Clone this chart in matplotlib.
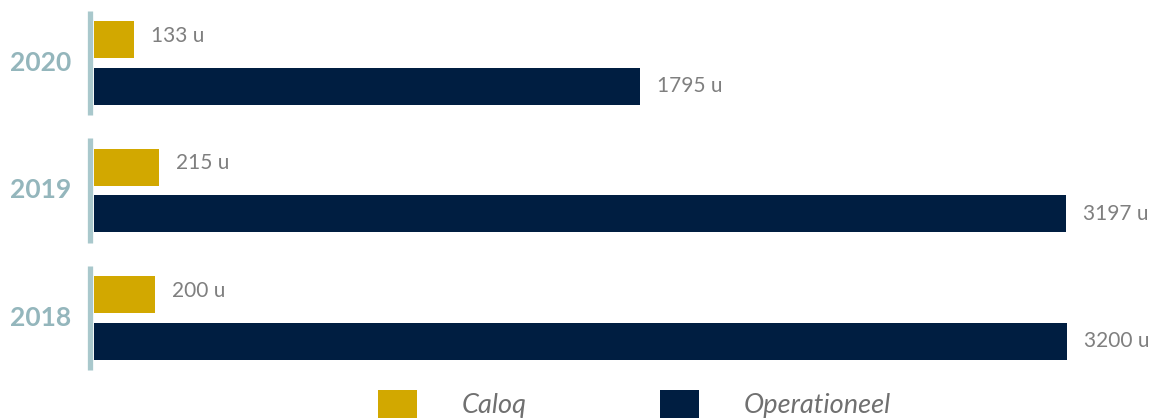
import matplotlib
matplotlib.use("Agg")
import matplotlib.pyplot as plt
from matplotlib.patches import Patch

# Data
years = ["2020", "2019", "2018"]
caloq = [133, 215, 200]
operationeel = [1795, 3197, 3200]
series_names = ["Caloq", "Operationeel"]
unit = "u"

GOLD = "#D2A800"
NAVY = "#001E41"
YEAR_COLOR = "#94B6BC"
SEP_COLOR = "#A9C8CC"
VALUE_COLOR = "#7F7F7F"
LEGEND_TEXT = "#707070"

plt.rcParams["font.family"] = ["Lato", "DejaVu Sans"]

W, H, DPI = 1162, 420, 100
fig = plt.figure(figsize=(W / DPI, H / DPI), dpi=DPI)
left_px = 94
ax = fig.add_axes([left_px / W, 0, 1 - left_px / W, 1])

bar_h = 0.29
offset = 0.184
pos = list(range(len(years)))

ax.barh([p - offset for p in pos], caloq, height=bar_h, color=GOLD, zorder=2)
ax.barh([p + offset for p in pos], operationeel, height=bar_h, color=NAVY, zorder=2)

ax.set_xlim(0, 3513)
ax.set_ylim(2.8, -0.494)
ax.axis("off")

# value labels next to each bar
pad = 17 / 0.304
for p, c, o in zip(pos, caloq, operationeel):
    ax.text(c + pad, p - offset - 0.03, f"{c} {unit}", va="center", ha="left",
            fontsize=15, color=VALUE_COLOR)
    ax.text(o + pad, p + offset, f"{o} {unit}", va="center", ha="left",
            fontsize=15, color=VALUE_COLOR)

# year labels with a vertical separator per group
trans = ax.get_yaxis_transform()
sep_x = (89.5 - left_px) / (W - left_px)
lab_x = (41 - left_px) / (W - left_px)
for p, y in zip(pos, years):
    ax.plot([sep_x, sep_x], [p - 0.41, p + 0.41], transform=trans, color=SEP_COLOR,
            lw=3.8, solid_capstyle="butt", clip_on=False)
    ax.text(lab_x, p, y, transform=trans, ha="center", va="center",
            fontsize=19, fontweight="bold", color=YEAR_COLOR, clip_on=False)

handles = [Patch(facecolor=GOLD, edgecolor="none"), Patch(facecolor=NAVY, edgecolor="none")]
leg = fig.legend(handles, series_names, loc="center left",
                 bbox_to_anchor=(378 / W, (H - 404) / H), ncol=2, frameon=False,
                 prop={"size": 19.5, "style": "italic"}, handlelength=1.45, handleheight=1.2,
                 handletextpad=1.65, columnspacing=4.9, borderpad=0, borderaxespad=0)
for t in leg.get_texts():
    t.set_color(LEGEND_TEXT)

fig.savefig("out.png", dpi=DPI)
